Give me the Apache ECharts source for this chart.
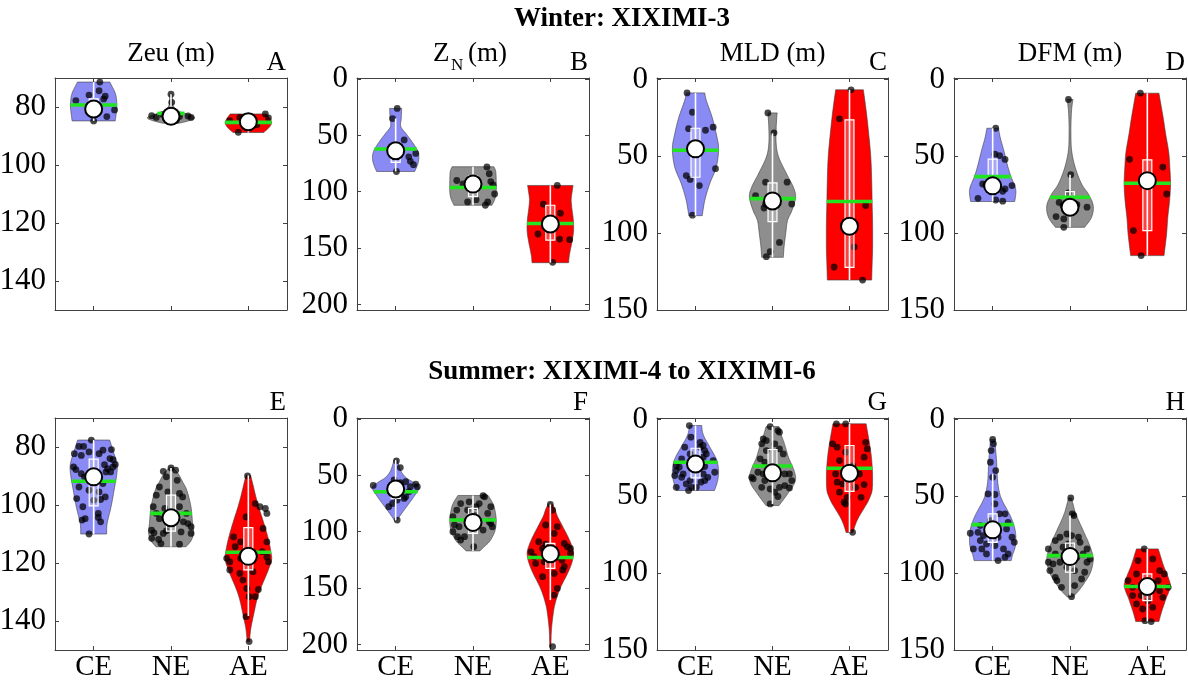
<!DOCTYPE html>
<html>
<head>
<meta charset="utf-8">
<title>Eddy violin plots</title>
<script src="https://cdn.jsdelivr.net/npm/echarts@6/dist/echarts.min.js"></script>
<style>
  html, body { margin: 0; padding: 0; background: #fff; }
  #chart { width: 1188px; height: 680px; }
</style>
</head>
<body>
<div id="chart"></div>
<script>
// ---- categories, colours and tick sets ----
const categories = ['CE', 'NE', 'AE'];
const zeuRange = [70, 150];   const zeuTicks = [80, 100, 120, 140];
const znRange = [-1, 205];    const znTicks = [0, 50, 100, 150, 200];
const depthRange = [-1, 150]; const depthTicks = [0, 50, 100, 150];

// Each violin: observed values, horizontal jitter (category units),
// outline profile [depth, relative half-width], five-number box [whisker, q1, median, q3, whisker], mean.

// ---------- Winter: XIXIMI-3 ----------
// A: Zeu (m)
const A_CE_val = [77.8, 71.4, 75.9, 74.4, 76.3, 77.2, 83.3, 81.0, 84.8];
const A_CE_jit = [-0.23, 0.08, -0.06, 0.07, 0.15, 0.13, 0.17, 0.27, 0.0];
const A_CE_shape = [[71.4,0.7],[73,0.8],[75,0.92],[77,0.98],[80,1.0],[83,0.96],[84.8,0.93]];
const A_CE_box = [71.4, 77.2, 80.7, 82.5, 84.8];
const A_CE_mean = 79.3;
const A_NE_val = [75.6, 78.4, 83.0, 83.6, 83.3, 83.1, 83.6, 84.1, 84.5, 82.6];
const A_NE_jit = [0.0, 0.01, -0.25, -0.19, 0.11, 0.22, 0.26, -0.06, 0.07, -0.11];
const A_NE_shape = [[75.6,0.05],[78,0.07],[80,0.12],[81.5,0.35],[82.5,0.7],[83.3,0.97],[84,1.0],[84.8,0.75],[85.6,0.35]];
const A_NE_box = [75.6, 82.3, 83.2, 84.0, 85.6];
const A_NE_mean = 82.2;
const A_AE_val = [82.4, 88.7, 87.0, 86.1, 83.8, 84.7, 83.6];
const A_AE_jit = [0.22, -0.13, -0.01, 0.11, 0.26, -0.24, -0.11];
const A_AE_shape = [[82.4,0.78],[84,0.93],[85.5,1.0],[87,0.9],[88.8,0.66]];
const A_AE_box = [82.4, 84.0, 85.1, 86.5, 88.8];
const A_AE_mean = 85.3;

// B: Z_N (m)
const B_CE_val = [26, 35, 54, 66, 73, 76, 69, 64.5, 82, 60];
const B_CE_jit = [0.02, -0.04, 0.11, 0.26, 0.19, 0.23, 0.17, -0.06, 0.01, -0.02];
const B_CE_shape = [[26,0.26],[35,0.24],[42,0.22],[48,0.43],[54,0.65],[60,0.85],[64,0.95],[69,1.0],[75,0.96],[82,0.82]];
const B_CE_box = [35, 60, 63.6, 74, 82];
const B_CE_mean = 62;
const B_NE_val = [78, 84, 91, 94, 102, 109, 112, 107, 109, 90, 93];
const B_NE_jit = [0.18, 0.21, 0.23, 0.26, 0.28, 0.19, 0.16, 0.04, -0.07, -0.21, -0.13];
const B_NE_shape = [[77.8,0.9],[82,0.98],[90,1.0],[100,1.0],[106,0.95],[112,0.82]];
const B_NE_box = [77.8, 85.8, 93.2, 104.4, 112];
const B_NE_mean = 96.2;
const B_AE_val = [94.4, 111, 119, 137.5, 142, 142.6, 162.7];
const B_AE_jit = [0.09, -0.09, 0.13, -0.16, 0.12, 0.25, 0.03];
const B_AE_shape = [[94.4,0.98],[100,0.94],[107,0.9],[115,0.93],[125,0.99],[135,1.0],[145,0.93],[152,0.86],[158,0.81],[163,0.79]];
const B_AE_box = [94.4, 112, 128.7, 143, 163];
const B_AE_mean = 128.2;

// C: MLD (m)
const C_CE_val = [8.7, 21.3, 32, 33, 31, 48.4, 58, 62.5, 65, 69, 88.3];
const C_CE_jit = [-0.11, -0.04, -0.09, 0.13, 0.23, -0.01, 0.26, -0.12, -0.07, 0.05, -0.04];
const C_CE_shape = [[8.7,0.4],[13.7,0.47],[24.5,0.72],[35.4,0.9],[45,1.0],[57,0.9],[68,0.61],[78.8,0.4],[88.6,0.29]];
const C_CE_box = [8.7, 31.7, 45.1, 63.6, 88.6];
const C_CE_mean = 46;
const C_NE_val = [21.7, 34.7, 66.8, 66.8, 75.5, 83.6, 81, 81, 106, 112, 115.3];
const C_NE_jit = [-0.06, 0.02, -0.09, 0.19, -0.22, -0.11, -0.09, 0.25, 0.09, -0.03, -0.08];
const C_NE_shape = [[21.7,0.2],[31,0.16],[42,0.16],[50.6,0.27],[61.4,0.61],[70,0.9],[76.6,1.0],[85.3,0.84],[91.8,0.65],[100.5,0.57],[109,0.5],[115.7,0.47]];
const C_NE_box = [35, 67.3, 79, 92.5, 115.7];
const C_NE_mean = 77.5;
const C_AE_val = [6.7, 25.6, 82, 109, 122, 130.5];
const C_AE_jit = [0.02, -0.13, 0.21, 0.06, -0.2, 0.17];
const C_AE_shape = [[6.7,0.6],[20,0.72],[35,0.83],[50,0.92],[65,0.96],[80,0.98],[95,1.0],[110,1.0],[120,0.98],[130.5,0.96]];
const C_AE_box = [6.7, 26.3, 95.5, 122.2, 130.5];
const C_AE_mean = 79.4;

// D: DFM (m)
const D_CE_val = [31.7, 48.6, 49.5, 52, 68, 68.4, 71.2, 69, 72.7, 77.3, 78.4, 79.2];
const D_CE_jit = [0.04, 0.03, 0.09, 0.16, -0.13, -0.09, 0.16, 0.25, 0.13, -0.19, 0.04, 0.13];
const D_CE_shape = [[31.7,0.25],[38,0.33],[46.2,0.48],[57,0.66],[63.6,0.8],[70,0.97],[74,1.0],[79.4,0.95]];
const D_CE_box = [31.7, 51.8, 69.2, 70.5, 79.4];
const D_CE_mean = 63.2;
const D_NE_val = [13, 61.9, 73.8, 80, 82, 83.1, 89.2, 90.7, 96.2, 81.4];
const D_NE_jit = [-0.02, 0.01, -0.02, -0.14, -0.09, 0.22, -0.18, -0.08, -0.08, 0.09];
const D_NE_shape = [[13,0.13],[18,0.08],[25,0.05],[35.4,0.04],[46.2,0.07],[57,0.22],[68,0.5],[74.5,0.79],[82,1.0],[89.6,0.93],[96.2,0.63]];
const D_NE_box = [62, 73, 83.1, 87.5, 96.2];
const D_NE_mean = 76.6;
const D_AE_val = [8.9, 51.9, 57, 74.5, 98.3, 114.6];
const D_AE_jit = [-0.09, -0.23, 0.2, 0.25, -0.18, -0.08];
const D_AE_shape = [[8.9,0.5],[24.5,0.68],[35.4,0.79],[47,0.92],[57,0.97],[68,1.0],[78.8,0.96],[90,0.88],[100.5,0.83],[114.6,0.72]];
const D_AE_box = [8.9, 52.3, 65.8, 98.3, 114.6];
const D_AE_mean = 67.5;

// ---------- Summer: XIXIMI-4 to XIXIMI-6 ----------
// E: Zeu (m)
const E_CE_val = [77.6, 79.8, 79.8, 81.7, 81.1, 80.9, 82.3, 82.9, 82.3, 84.0, 86.1, 84.4, 86.9, 87.8, 86.9, 87.5, 86.0, 88.6, 88.6, 89.2, 90.3, 89.8, 92.6, 93.8, 94.9, 97.8, 95.5, 97.2, 98.4, 98.1, 100.6, 102.9, 104.3, 105.2, 104.7, 105.8, 110.0];
const E_CE_jit = [-0.03, -0.19, -0.13, -0.06, 0.12, 0.23, -0.25, -0.16, 0.07, 0.21, 0.14, 0.25, -0.26, -0.23, 0.25, 0.18, 0.28, 0.16, 0.22, -0.16, -0.12, 0.06, 0.12, -0.19, -0.06, -0.22, 0.07, 0.15, 0.0, 0.09, -0.14, 0.06, 0.06, -0.15, -0.11, 0.09, -0.06];
const E_CE_shape = [[77.6,0.69],[81.1,0.83],[85.7,1.0],[89.2,1.0],[94.9,0.88],[100.6,0.75],[106.4,0.58],[110,0.56]];
const E_CE_box = [77.6, 84.2, 90.3, 100.3, 110];
const E_CE_mean = 91.8;
const E_NE_val = [87.2, 88.4, 88.0, 90.3, 91.5, 93.8, 96.6, 95.5, 96.0, 97.2, 100.6, 101.2, 100.6, 102.9, 102.9, 104.7, 105.2, 105.8, 106.4, 108.7, 109.6, 108.9, 109.3, 107.5, 111.9, 113.3, 113.5, 111.5, 109.8, 109.8];
const E_NE_jit = [0.0, -0.1, 0.06, -0.06, 0.08, -0.15, -0.19, -0.04, 0.11, 0.15, -0.23, -0.08, 0.11, -0.19, 0.2, -0.15, 0.06, 0.16, 0.22, -0.25, -0.22, -0.06, 0.13, 0.26, -0.16, -0.13, 0.11, -0.25, 0.26, -0.1];
const E_NE_shape = [[87,0.07],[89.2,0.31],[92,0.5],[94.9,0.68],[100.6,0.86],[106.4,0.93],[109.3,0.97],[112.1,0.88],[114.4,0.65]];
const E_NE_box = [87.2, 96.6, 104.4, 109, 114.4];
const E_NE_mean = 102.9;
const E_AE_val = [90.0, 104.1, 99.5, 100.6, 101.2, 102.9, 108.1, 111.0, 112.7, 114.4, 116.1, 118.4, 119.6, 122.4, 117.9, 119.6, 119.0, 123.6, 123.0, 125.9, 128.8, 129.1, 131.6, 131.6, 138.5, 147.1, 112.7, 118.4];
const E_AE_jit = [-0.01, -0.03, 0.09, 0.15, 0.22, 0.24, 0.19, -0.19, -0.1, -0.17, 0.18, -0.28, -0.24, -0.24, 0.24, 0.26, 0.06, -0.11, 0.06, -0.07, -0.02, 0.13, 0.01, 0.09, -0.03, 0.01, 0.24, -0.1];
const E_AE_shape = [[89.8,0.1],[93,0.2],[97,0.32],[101,0.46],[105,0.62],[109,0.77],[113,0.9],[117,0.99],[119,1.0],[122,0.88],[125,0.73],[128,0.57],[131,0.43],[134,0.33],[137,0.25],[140,0.17],[143,0.1],[147.1,0.05]];
const E_AE_box = [89.8, 107.8, 117.7, 122.4, 138.3];
const E_AE_mean = 116.3;

// F: Z_N (m)
const F_CE_val = [37, 43, 58.9, 54, 56.5, 55.6, 57.7, 60, 61.5, 64.5, 70.4, 71.9, 74.9, 69, 77.8, 89.6, 60];
const F_CE_jit = [0.01, 0.06, -0.29, -0.02, 0.06, 0.13, 0.26, 0.28, -0.06, 0.17, 0.11, 0.02, -0.04, 0.13, -0.09, 0.02, 0.19];
const F_CE_shape = [[36.4,0.07],[42,0.15],[47,0.25],[52,0.45],[56,0.75],[60,1.0],[63,0.98],[67,0.85],[72,0.68],[77,0.5],[82,0.32],[87,0.15],[90,0.06]];
const F_CE_box = [36.4, 57.1, 62.1, 70.4, 90];
const F_CE_mean = 64.5;
const F_NE_val = [68, 69, 75, 73.4, 75, 77.8, 80.8, 80.8, 77.8, 83.7, 86.7, 85.2, 92.6, 94, 95.5, 98.5, 100, 104.4, 104.4, 107.4, 113.3, 91.1, 95.6];
const F_NE_jit = [0.13, 0.15, -0.16, -0.05, 0.08, 0.04, -0.21, -0.07, 0.23, 0.19, -0.26, 0.02, 0.23, -0.24, -0.18, 0.13, -0.26, -0.2, -0.11, -0.16, 0.01, 0.21, 0.25];
const F_NE_shape = [[67.8,0.65],[72,0.78],[77,0.9],[85,0.98],[92,1.0],[99,0.95],[104,0.85],[109,0.7],[113,0.5],[117,0.3]];
const F_NE_box = [67.8, 79.3, 91.7, 101.5, 117];
const F_NE_mean = 89.6;
const F_AE_val = [75.7, 80.8, 94, 95.5, 101.5, 108.9, 111, 110.4, 113.3, 114.8, 114.8, 117.8, 122.2, 119.2, 122.2, 125.1, 128.1, 126.6, 131.1, 134, 137, 139.9, 150.3, 156.2, 202];
const F_AE_jit = [0.0, 0.03, -0.06, 0.09, 0.05, -0.15, -0.06, 0.18, 0.22, -0.1, 0.26, -0.25, -0.21, 0.26, 0.09, 0.15, -0.19, -0.08, 0.18, 0.16, 0.05, -0.1, 0.09, 0.05, 0.03];
const F_AE_shape = [[75.7,0.1],[80,0.2],[86,0.3],[92,0.45],[98,0.6],[104,0.75],[110,0.88],[116,0.98],[120,1.0],[126,0.95],[132,0.85],[138,0.72],[144,0.57],[150,0.43],[156,0.32],[162,0.23],[168,0.16],[175,0.11],[182,0.07],[190,0.04],[198,0.03],[202,0.03]];
const F_AE_box = [75.7, 110.4, 119.5, 132.5, 160.7];
const F_AE_mean = 122.8;

// G: MLD (m)
const G_CE_val = [3.9, 11.5, 14.8, 16.9, 18, 18, 20.2, 22.4, 22.4, 25.6, 24.5, 30, 31, 26.7, 28.9, 30.6, 33.2, 35.4, 35.4, 37.6, 37.6, 39.7, 40.8, 39.7, 36.5, 41.9, 44.1, 44.1, 46.2, 44.1, 34.3];
const G_CE_jit = [-0.08, -0.06, 0.06, 0.1, -0.14, 0.06, 0.12, 0.14, -0.07, -0.18, 0.1, -0.25, -0.21, 0.23, -0.03, 0.12, -0.25, -0.16, 0.1, -0.18, 0.16, -0.07, 0.07, 0.12, -0.27, -0.12, -0.05, 0.01, -0.09, -0.25, 0.25];
const G_CE_shape = [[3.9,0.27],[8,0.3],[12,0.4],[16,0.55],[20,0.7],[24,0.85],[28,0.95],[33,1.0],[38,0.98],[42,0.92],[46.2,0.82]];
const G_CE_box = [3.9, 18.7, 28.9, 38, 46.2];
const G_CE_mean = 27.8;
const G_NE_val = [4.6, 7.2, 8.2, 12.6, 13.7, 15.8, 15.8, 19.1, 20.2, 22.4, 25.6, 27.8, 31, 32.1, 34.3, 35.4, 37.6, 38.6, 35.4, 35.4, 39.7, 39.7, 43, 44.1, 44.5, 45.2, 44.1, 47.3, 54.9, 50.1];
const G_NE_jit = [-0.03, 0.07, 0.09, -0.12, -0.08, -0.14, 0.03, 0.09, -0.08, 0.14, -0.16, -0.1, -0.06, 0.05, -0.19, -0.12, -0.27, -0.25, 0.16, 0.22, 0.25, -0.1, 0.16, 0.09, 0.22, -0.03, -0.14, 0.03, -0.03, 0.07];
const G_NE_shape = [[4.6,0.28],[10,0.38],[15,0.5],[20,0.6],[25,0.7],[30,0.85],[35,0.97],[39,1.0],[43,0.9],[47,0.72],[51,0.53],[54,0.38],[56,0.28]];
const G_NE_box = [4.6, 19.5, 34.7, 38.2, 55];
const G_NE_mean = 30.2;
const G_AE_val = [2.8, 2.8, 15.8, 18, 14.8, 19.1, 21.3, 24.5, 26.7, 30, 40.8, 41.9, 44.1, 42.3, 50.6, 47.3, 50.6, 53.8, 54.9, 73.4, 35.4, 35.4];
const G_AE_jit = [-0.17, -0.05, -0.22, -0.16, 0.21, 0.23, -0.05, 0.19, -0.13, 0.04, -0.16, -0.09, 0.08, 0.19, -0.03, -0.13, 0.15, -0.07, -0.05, 0.04, -0.18, 0.13];
const G_AE_shape = [[2.8,0.72],[8,0.78],[15,0.86],[22,0.93],[30,0.98],[38,1.0],[46,0.98],[50,0.9],[54,0.78],[58,0.62],[62,0.46],[66,0.32],[70,0.22],[73.5,0.15]];
const G_AE_box = [2.8, 16.9, 34.9, 46.7, 73.4];
const G_AE_mean = 31.7;

// H: DFM (m)
const H_CE_val = [13, 15.8, 20.2, 27.8, 33.2, 37.6, 48.4, 48.8, 54.9, 61.4, 61.4, 65.8, 66.9, 69, 74, 73.4, 75.5, 71.2, 76.6, 76.6, 79.9, 78.8, 81, 84.2, 84.2, 82, 84.2, 87.5, 89.6, 91.8, 87.5];
const H_CE_jit = [0.0, 0.01, -0.02, -0.03, 0.04, 0.0, -0.06, 0.03, 0.03, 0.09, 0.16, -0.03, 0.2, -0.16, -0.29, -0.19, -0.12, 0.18, 0.07, 0.25, 0.28, -0.16, -0.08, -0.25, -0.14, 0.03, 0.14, 0.2, 0.16, 0.07, -0.08];
const H_CE_shape = [[13,0.1],[20,0.13],[27,0.17],[34,0.19],[41,0.22],[48,0.3],[53,0.42],[58,0.6],[63,0.77],[68,0.9],[73,0.98],[78,1.0],[83,0.97],[88,0.86],[91.8,0.8]];
const H_CE_box = [35.4, 61.4, 71.8, 79.9, 91.8];
const H_CE_mean = 68.4;
const H_NE_val = [51, 61.4, 62.5, 74.5, 75.5, 76.6, 76.6, 78.8, 79.9, 81, 83.1, 84.2, 87.5, 84.2, 87.5, 89.6, 92.9, 94, 92.9, 90.7, 92.9, 96.2, 98.3, 99.4, 102.7, 104.8, 103.8, 108.1, 109.2, 115.3, 98.3];
const H_NE_jit = [0.01, 0.03, 0.05, -0.04, 0.02, -0.13, 0.11, -0.19, 0.13, -0.02, -0.09, -0.28, -0.19, 0.22, 0.17, 0.09, -0.28, -0.22, -0.13, 0.26, 0.22, -0.04, 0.06, 0.19, -0.19, -0.17, 0.15, 0.06, -0.11, 0.02, -0.26];
const H_NE_shape = [[51,0.06],[55,0.13],[60,0.22],[65,0.35],[70,0.5],[75,0.65],[80,0.8],[85,0.92],[90,1.0],[95,0.97],[100,0.87],[105,0.68],[110,0.45],[113,0.28],[115.5,0.12]];
const H_NE_box = [62.5, 80.5, 89.2, 99.4, 114.6];
const H_NE_mean = 88.6;
const H_AE_val = [84.2, 90.7, 91.8, 98.3, 100.5, 100.5, 104.8, 104.8, 109.2, 110.3, 114.6, 111.4, 109.2, 113.5, 120, 122.2, 123.3, 131.5, 130.9, 114.6, 115.7, 117.9];
const H_AE_jit = [-0.04, 0.07, -0.12, 0.16, 0.22, -0.14, -0.25, 0.14, -0.19, -0.06, -0.08, 0.16, 0.27, 0.01, -0.14, 0.07, -0.06, 0.05, -0.03, -0.19, 0.2, 0.01];
const H_AE_shape = [[84.2,0.47],[88,0.55],[92,0.63],[96,0.72],[100,0.83],[104,0.93],[108,1.0],[112,0.93],[116,0.82],[120,0.73],[124,0.64],[128,0.56],[131.5,0.5]];
const H_AE_box = [84.2, 100.5, 108.7, 117.9, 131.5];
const H_AE_mean = 108.7;

// ---- layout ----
const FONT = 'Liberation Serif';
const fills = ['#8a8af4', '#8e8e8e', '#ff0000'];
const colLeft = [55, 357, 657, 954];
const colWidth = [232, 232, 231, 232];
const rowTop = [78, 418];
const plotH = 232;

function vio(val, jit, shape, box, mean) { return { val, jit, shape, box, mean }; }

const panels = [
  { letter: 'A', title: 'Zeu (m)', row: 0, col: 0, range: zeuRange, ticks: zeuTicks,
    v: [vio(A_CE_val, A_CE_jit, A_CE_shape, A_CE_box, A_CE_mean), vio(A_NE_val, A_NE_jit, A_NE_shape, A_NE_box, A_NE_mean), vio(A_AE_val, A_AE_jit, A_AE_shape, A_AE_box, A_AE_mean)] },
  { letter: 'B', title: 'ZN', row: 0, col: 1, range: znRange, ticks: znTicks,
    v: [vio(B_CE_val, B_CE_jit, B_CE_shape, B_CE_box, B_CE_mean), vio(B_NE_val, B_NE_jit, B_NE_shape, B_NE_box, B_NE_mean), vio(B_AE_val, B_AE_jit, B_AE_shape, B_AE_box, B_AE_mean)] },
  { letter: 'C', title: 'MLD (m)', row: 0, col: 2, range: depthRange, ticks: depthTicks,
    v: [vio(C_CE_val, C_CE_jit, C_CE_shape, C_CE_box, C_CE_mean), vio(C_NE_val, C_NE_jit, C_NE_shape, C_NE_box, C_NE_mean), vio(C_AE_val, C_AE_jit, C_AE_shape, C_AE_box, C_AE_mean)] },
  { letter: 'D', title: 'DFM (m)', row: 0, col: 3, range: depthRange, ticks: depthTicks,
    v: [vio(D_CE_val, D_CE_jit, D_CE_shape, D_CE_box, D_CE_mean), vio(D_NE_val, D_NE_jit, D_NE_shape, D_NE_box, D_NE_mean), vio(D_AE_val, D_AE_jit, D_AE_shape, D_AE_box, D_AE_mean)] },
  { letter: 'E', title: '', row: 1, col: 0, range: zeuRange, ticks: zeuTicks,
    v: [vio(E_CE_val, E_CE_jit, E_CE_shape, E_CE_box, E_CE_mean), vio(E_NE_val, E_NE_jit, E_NE_shape, E_NE_box, E_NE_mean), vio(E_AE_val, E_AE_jit, E_AE_shape, E_AE_box, E_AE_mean)] },
  { letter: 'F', title: '', row: 1, col: 1, range: znRange, ticks: znTicks,
    v: [vio(F_CE_val, F_CE_jit, F_CE_shape, F_CE_box, F_CE_mean), vio(F_NE_val, F_NE_jit, F_NE_shape, F_NE_box, F_NE_mean), vio(F_AE_val, F_AE_jit, F_AE_shape, F_AE_box, F_AE_mean)] },
  { letter: 'G', title: '', row: 1, col: 2, range: depthRange, ticks: depthTicks,
    v: [vio(G_CE_val, G_CE_jit, G_CE_shape, G_CE_box, G_CE_mean), vio(G_NE_val, G_NE_jit, G_NE_shape, G_NE_box, G_NE_mean), vio(G_AE_val, G_AE_jit, G_AE_shape, G_AE_box, G_AE_mean)] },
  { letter: 'H', title: '', row: 1, col: 3, range: depthRange, ticks: depthTicks,
    v: [vio(H_CE_val, H_CE_jit, H_CE_shape, H_CE_box, H_CE_mean), vio(H_NE_val, H_NE_jit, H_NE_shape, H_NE_box, H_NE_mean), vio(H_AE_val, H_AE_jit, H_AE_shape, H_AE_box, H_AE_mean)] }
];

// Catmull-Rom smoothing of an outline profile
function densify(shape) {
  const out = [];
  const n = shape.length;
  const steps = 8;
  for (let k = 0; k < n - 1; k++) {
    const p0 = shape[Math.max(k - 1, 0)], p1 = shape[k], p2 = shape[k + 1], p3 = shape[Math.min(k + 2, n - 1)];
    for (let s = 0; s < steps; s++) {
      const t = s / steps, t2 = t * t, t3 = t2 * t;
      const f = (a, b, c, d) => 0.5 * (2 * b + (-a + c) * t + (2 * a - 5 * b + 4 * c - d) * t2 + (-a + 3 * b - 3 * c + d) * t3);
      out.push([f(p0[0], p1[0], p2[0], p3[0]), Math.max(0.01, f(p0[1], p1[1], p2[1], p3[1]))]);
    }
  }
  out.push(shape[n - 1]);
  return out;
}
function widthAt(dense, v) {
  if (v <= dense[0][0]) return dense[0][1];
  for (let k = 1; k < dense.length; k++) {
    if (v <= dense[k][0]) {
      const a = dense[k - 1], b = dense[k];
      const t = (v - a[0]) / (b[0] - a[0] || 1);
      return a[1] + t * (b[1] - a[1]);
    }
  }
  return dense[dense.length - 1][1];
}

function makeRender(panel) {
  return function (params, api) {
    const idx = params.dataIndex;
    const d = panel.v[idx];
    const cx = api.coord([idx, 0])[0];
    const band = api.size([1, 0])[0];
    const Y = (val) => api.coord([idx, val])[1];
    const maxHalf = 0.3 * band;
    const dense = densify(d.shape);
    const right = dense.map(p => [cx + p[1] * maxHalf, Y(p[0])]);
    const left = dense.slice().reverse().map(p => [cx - p[1] * maxHalf, Y(p[0])]);
    const children = [];
    children.push({ type: 'polygon', shape: { points: right.concat(left) },
      style: { fill: fills[idx], stroke: 'rgba(60,60,60,0.75)', lineWidth: 0.8 } });
    d.val.forEach((v, k) => {
      children.push({ type: 'circle', shape: { cx: cx + d.jit[k] * band, cy: Y(v), r: 3.4 },
        style: { fill: 'rgba(0,0,0,0.72)' } });
    });
    const [lo, q1, med, q3, hi] = d.box;
    const bw = 0.058 * band;
    children.push({ type: 'rect', shape: { x: cx - bw, y: Y(q1), width: 2 * bw, height: Y(q3) - Y(q1) },
      style: { fill: 'rgba(255,255,255,0.25)', stroke: '#ffffff', lineWidth: 1.2 } });
    children.push({ type: 'line', shape: { x1: cx, y1: Y(lo), x2: cx, y2: Y(hi) },
      style: { stroke: '#ffffff', lineWidth: 1.6 } });
    const mw = widthAt(dense, d.mean) * maxHalf;
    children.push({ type: 'line', shape: { x1: cx - mw, y1: Y(d.mean), x2: cx + mw, y2: Y(d.mean) },
      style: { stroke: '#1fe61f', lineWidth: 3.6 } });
    children.push({ type: 'circle', shape: { cx: cx, cy: Y(med), r: 8.5 },
      style: { fill: '#ffffff', stroke: '#000000', lineWidth: 2 } });
    return { type: 'group', children };
  };
}

const axisColor = '#404040';
const grids = [], xAxes = [], yAxes = [], series = [], graphics = [];
const titleFont = '27px "' + FONT + '"';

panels.forEach((p, i) => {
  grids.push({ left: colLeft[p.col], top: rowTop[p.row], width: colWidth[p.col], height: plotH,
    containLabel: false, outerBoundsMode: 'none' });
  const lineStyle = { color: axisColor, width: 1 };
  xAxes.push({ type: 'category', gridIndex: i, data: categories, position: 'bottom', boundaryGap: true,
    axisLine: { show: true, onZero: false, lineStyle },
    axisTick: { show: true, inside: true, length: 4, alignWithLabel: true, interval: 0, lineStyle },
    axisLabel: { show: p.row === 1, color: '#000', fontFamily: FONT, fontSize: 29, margin: 3, interval: 0 },
    splitLine: { show: false } });
  xAxes.push({ type: 'category', gridIndex: i, data: categories, position: 'top', boundaryGap: true,
    axisLine: { show: true, onZero: false, lineStyle },
    axisTick: { show: true, inside: true, length: 4, alignWithLabel: true, interval: 0, lineStyle },
    axisLabel: { show: false }, splitLine: { show: false } });
  yAxes.push({ type: 'value', gridIndex: i, inverse: true, min: p.range[0], max: p.range[1], position: 'left',
    axisLine: { show: true, lineStyle },
    axisTick: { show: true, inside: true, length: 4, customValues: p.ticks, lineStyle },
    axisLabel: { show: true, customValues: p.ticks, color: '#000', fontFamily: FONT, fontSize: 31, margin: 9 },
    splitLine: { show: false } });
  yAxes.push({ type: 'value', gridIndex: i, inverse: true, min: p.range[0], max: p.range[1], position: 'right',
    axisLine: { show: true, lineStyle },
    axisTick: { show: true, inside: true, length: 4, customValues: p.ticks, lineStyle },
    axisLabel: { show: false }, splitLine: { show: false } });
  series.push({ type: 'custom', name: p.letter, xAxisIndex: 2 * i, yAxisIndex: 2 * i, clip: false,
    data: [[0, 0], [1, 0], [2, 0]], encode: { x: 0, y: 1 }, renderItem: makeRender(p), silent: true });

  const right = colLeft[p.col] + colWidth[p.col];
  const center = colLeft[p.col] + colWidth[p.col] / 2;
  const top = rowTop[p.row];
  graphics.push({ type: 'text', style: { text: p.letter, x: right - 1, y: top - 15, font: titleFont,
    fill: '#000', textAlign: 'right', textVerticalAlign: 'middle' } });
  if (p.title === 'ZN') {
    graphics.push({ type: 'text', style: { text: 'Z', x: center - 40, y: top - 24, font: titleFont,
      fill: '#000', textAlign: 'left', textVerticalAlign: 'middle' } });
    graphics.push({ type: 'text', style: { text: 'N', x: center - 22, y: top - 12, font: '17px "' + FONT + '"',
      fill: '#000', textAlign: 'left', textVerticalAlign: 'middle' } });
    graphics.push({ type: 'text', style: { text: '(m)', x: center - 5, y: top - 24, font: titleFont,
      fill: '#000', textAlign: 'left', textVerticalAlign: 'middle' } });
  } else if (p.title) {
    graphics.push({ type: 'text', style: { text: p.title, x: center, y: top - 24, font: titleFont,
      fill: '#000', textAlign: 'center', textVerticalAlign: 'middle' } });
  }
});

graphics.push({ type: 'text', style: { text: 'Winter: XIXIMI-3', x: 622, y: 19, font: 'bold 27px "' + FONT + '"',
  fill: '#000', textAlign: 'center', textVerticalAlign: 'middle' } });
graphics.push({ type: 'text', style: { text: 'Summer: XIXIMI-4 to XIXIMI-6', x: 622, y: 372, font: 'bold 27px "' + FONT + '"',
  fill: '#000', textAlign: 'center', textVerticalAlign: 'middle' } });

const chart = echarts.init(document.getElementById('chart'), null, { renderer: 'canvas' });
chart.setOption({
  backgroundColor: '#ffffff',
  animation: false,
  grid: grids,
  xAxis: xAxes,
  yAxis: yAxes,
  series: series,
  graphic: graphics
});
</script>
</body>
</html>
